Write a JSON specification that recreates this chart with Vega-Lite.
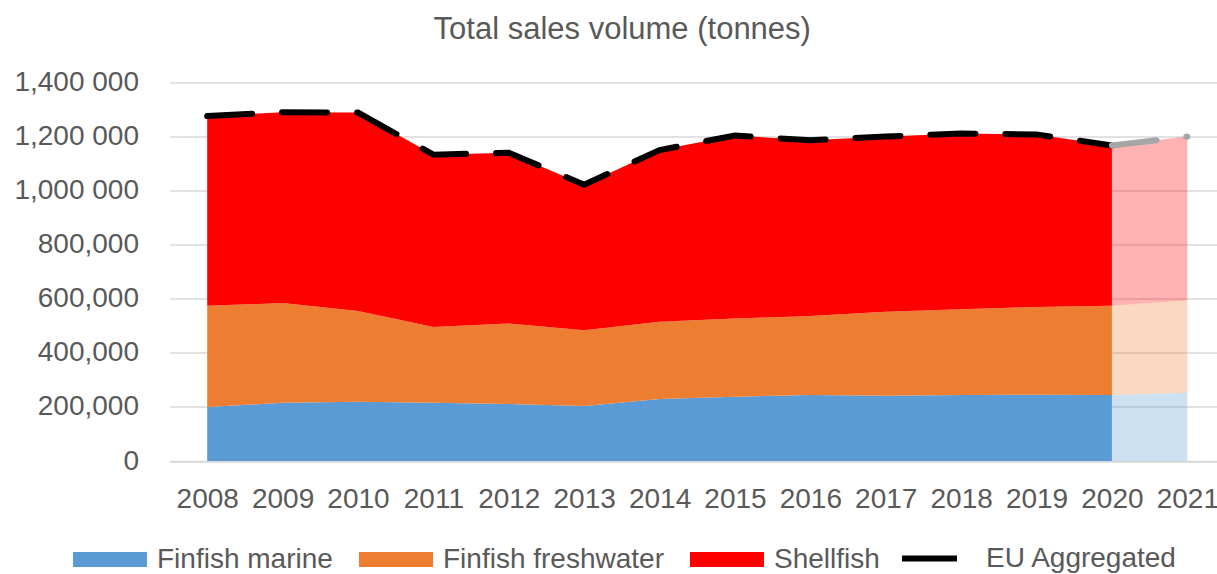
{
  "$schema": "https://vega.github.io/schema/vega-lite/v6.json",
  "width": 1055.5,
  "height": 378.5,
  "autosize": {"type": "none"},
  "padding": {"left": 169.5, "top": 82.5, "right": 0, "bottom": 113},
  "background": "white",
  "config": {"view": {"stroke": null}, "font": "Liberation Sans"},
  "title": {"text": "Total sales volume (tonnes)", "fontSize": 31, "font": "Liberation Sans", "fontWeight": "normal", "color": "#595959", "anchor": "middle", "dx": -75, "offset": 23},
  "data": {"values": [
    {"year": 2008, "series": "Finfish marine", "value": 200000},
    {"year": 2009, "series": "Finfish marine", "value": 215000},
    {"year": 2010, "series": "Finfish marine", "value": 219000},
    {"year": 2011, "series": "Finfish marine", "value": 215000},
    {"year": 2012, "series": "Finfish marine", "value": 211000},
    {"year": 2013, "series": "Finfish marine", "value": 203000},
    {"year": 2014, "series": "Finfish marine", "value": 229000},
    {"year": 2015, "series": "Finfish marine", "value": 238000},
    {"year": 2016, "series": "Finfish marine", "value": 244000},
    {"year": 2017, "series": "Finfish marine", "value": 241000},
    {"year": 2018, "series": "Finfish marine", "value": 244000},
    {"year": 2019, "series": "Finfish marine", "value": 245000},
    {"year": 2020, "series": "Finfish marine", "value": 244000},
    {"year": 2021, "series": "Finfish marine", "value": 252000},
    {"year": 2008, "series": "Finfish freshwater", "value": 374000},
    {"year": 2009, "series": "Finfish freshwater", "value": 369000},
    {"year": 2010, "series": "Finfish freshwater", "value": 336000},
    {"year": 2011, "series": "Finfish freshwater", "value": 281000},
    {"year": 2012, "series": "Finfish freshwater", "value": 298000},
    {"year": 2013, "series": "Finfish freshwater", "value": 281000},
    {"year": 2014, "series": "Finfish freshwater", "value": 286000},
    {"year": 2015, "series": "Finfish freshwater", "value": 289000},
    {"year": 2016, "series": "Finfish freshwater", "value": 292000},
    {"year": 2017, "series": "Finfish freshwater", "value": 311000},
    {"year": 2018, "series": "Finfish freshwater", "value": 317000},
    {"year": 2019, "series": "Finfish freshwater", "value": 325000},
    {"year": 2020, "series": "Finfish freshwater", "value": 330000},
    {"year": 2021, "series": "Finfish freshwater", "value": 343000},
    {"year": 2008, "series": "Shellfish", "value": 702000},
    {"year": 2009, "series": "Shellfish", "value": 706000},
    {"year": 2010, "series": "Shellfish", "value": 734000},
    {"year": 2011, "series": "Shellfish", "value": 637000},
    {"year": 2012, "series": "Shellfish", "value": 631000},
    {"year": 2013, "series": "Shellfish", "value": 538000},
    {"year": 2014, "series": "Shellfish", "value": 635000},
    {"year": 2015, "series": "Shellfish", "value": 677000},
    {"year": 2016, "series": "Shellfish", "value": 650000},
    {"year": 2017, "series": "Shellfish", "value": 648000},
    {"year": 2018, "series": "Shellfish", "value": 650000},
    {"year": 2019, "series": "Shellfish", "value": 638000},
    {"year": 2020, "series": "Shellfish", "value": 593000},
    {"year": 2021, "series": "Shellfish", "value": 605000},
    {"year": 2008, "series": "EU Aggregated", "value": 1276000},
    {"year": 2009, "series": "EU Aggregated", "value": 1290000},
    {"year": 2010, "series": "EU Aggregated", "value": 1289000},
    {"year": 2011, "series": "EU Aggregated", "value": 1133000},
    {"year": 2012, "series": "EU Aggregated", "value": 1140000},
    {"year": 2013, "series": "EU Aggregated", "value": 1022000},
    {"year": 2014, "series": "EU Aggregated", "value": 1150000},
    {"year": 2015, "series": "EU Aggregated", "value": 1204000},
    {"year": 2016, "series": "EU Aggregated", "value": 1186000},
    {"year": 2017, "series": "EU Aggregated", "value": 1200000},
    {"year": 2018, "series": "EU Aggregated", "value": 1211000},
    {"year": 2019, "series": "EU Aggregated", "value": 1208000},
    {"year": 2020, "series": "EU Aggregated", "value": 1167000},
    {"year": 2021, "series": "EU Aggregated", "value": 1200000}
  ]},
  "transform": [{"calculate": "indexof(['Finfish marine', 'Finfish freshwater', 'Shellfish', 'EU Aggregated'], datum.series)", "as": "stackOrder"}],
  "encoding": {
    "x": {"field": "year", "type": "quantitative",
      "scale": {"domain": [2007.5, 2021.5], "nice": false, "zero": false},
      "axis": {"title": null, "values": [2008, 2009, 2010, 2011, 2012, 2013, 2014, 2015, 2016, 2017, 2018, 2019, 2020, 2021],
        "format": "d", "ticks": false, "grid": false, "domainColor": "#D9D9D9", "domainWidth": 1.5,
        "labelFontSize": 28, "labelColor": "#595959", "labelPadding": 24, "labelFlush": false, "labelOverlap": false, "labelFont": "Liberation Sans"}},
    "y": {"field": "value", "type": "quantitative",
      "scale": {"domain": [0, 1400000], "nice": false},
      "axis": {"title": null, "values": [0, 200000, 400000, 600000, 800000, 1000000, 1200000, 1400000],
        "labelExpr": "datum.value >= 1000000 ? format(floor(datum.value / 1000), ',') + ' 000' : format(datum.value, ',')",
        "domain": false, "ticks": false, "grid": true, "gridColor": "#D9D9D9", "gridWidth": 1.5,
        "labelFontSize": 28, "labelColor": "#595959", "labelPadding": 31, "labelFont": "Liberation Sans"}}
  },
  "layer": [
    {
      "transform": [{"filter": "datum.series != 'EU Aggregated' && datum.year <= 2020"}],
      "mark": {"type": "area", "opacity": 1},
      "encoding": {
        "y": {"field": "value", "type": "quantitative", "stack": "zero"},
        "order": {"field": "stackOrder", "type": "quantitative", "sort": "ascending"},
        "color": {"field": "series", "type": "nominal",
          "sort": ["Finfish marine", "Finfish freshwater", "Shellfish"],
          "scale": {"domain": ["Finfish marine", "Finfish freshwater", "Shellfish"], "range": ["#5B9BD5", "#ED7D31", "#FF0000"]},
          "legend": {"title": null, "orient": "none", "direction": "horizontal", "legendX": -96.5, "legendY": 440, "padding": 0,
            "symbolType": "M-1,-0.2H1V0.2H-1Z", "symbolSize": 5476, "symbolStrokeWidth": 0, "symbolOpacity": 1,
            "labelFontSize": 28, "labelColor": "#595959", "labelOffset": 10, "columnPadding": 26, "labelFont": "Liberation Sans", "labelLimit": 400}}
      }
    },
    {
      "transform": [{"filter": "datum.series != 'EU Aggregated' && datum.year >= 2020"}],
      "mark": {"type": "area", "fillOpacity": 0.3},
      "encoding": {
        "y": {"field": "value", "type": "quantitative", "stack": "zero"},
        "order": {"field": "stackOrder", "type": "quantitative", "sort": "ascending"},
        "color": {"field": "series", "type": "nominal",
          "sort": ["Finfish marine", "Finfish freshwater", "Shellfish"]}
      }
    },
    {
      "transform": [{"filter": "datum.series == 'EU Aggregated' && datum.year <= 2020"}],
      "mark": {"type": "line", "strokeWidth": 6, "strokeDash": [45, 30], "strokeCap": "round"},
      "encoding": {
        "stroke": {"field": "series", "type": "nominal",
          "scale": {"domain": ["EU Aggregated"], "range": ["#000000"]},
          "legend": {"title": null, "orient": "none", "legendX": 729.5, "legendY": 445.5, "padding": 0,
            "symbolType": "stroke", "symbolSize": 3025, "symbolStrokeWidth": 6, "symbolDash": [1, 0],
            "labelFontSize": 28, "labelColor": "#595959", "labelOffset": 26, "labelFont": "Liberation Sans", "labelLimit": 400}}
      }
    },
    {
      "transform": [{"filter": "datum.series == 'EU Aggregated' && datum.year >= 2020"}],
      "mark": {"type": "line", "strokeWidth": 6, "strokeDash": [45, 30], "strokeCap": "round", "color": "#A6A6A6"},
      "encoding": {}
    }
  ]
}
